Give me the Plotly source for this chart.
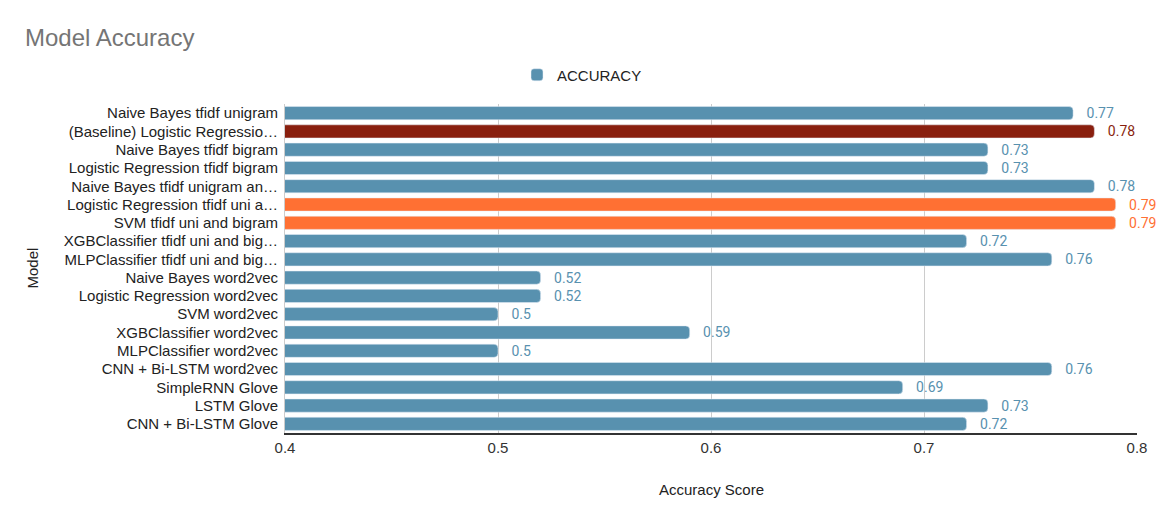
import plotly.graph_objects as go

# data
models = ["Naive Bayes tfidf unigram", "(Baseline) Logistic Regressio…", "Naive Bayes tfidf bigram",
          "Logistic Regression tfidf bigram", "Naive Bayes tfidf unigram an…",
          "Logistic Regression tfidf uni a…", "SVM tfidf uni and bigram",
          "XGBClassifier tfidf uni and big…", "MLPClassifier tfidf uni and big…",
          "Naive Bayes word2vec", "Logistic Regression word2vec", "SVM word2vec",
          "XGBClassifier word2vec", "MLPClassifier word2vec", "CNN + Bi-LSTM word2vec",
          "SimpleRNN Glove", "LSTM Glove", "CNN + Bi-LSTM Glove"]
accuracy = [0.77, 0.78, 0.73, 0.73, 0.78, 0.79, 0.79, 0.72, 0.76,
            0.52, 0.52, 0.5, 0.59, 0.5, 0.76, 0.69, 0.73, 0.72]
x_ticks = [0.4, 0.5, 0.6, 0.7, 0.8]

blue = "rgb(88,145,175)"
dark_red = "rgb(137,31,14)"
orange = "rgb(255,112,51)"
# baseline highlighted in dark red, best two in orange
colors = [blue] * len(models)
colors[1] = dark_red
colors[5] = orange
colors[6] = orange

W, H = 1164, 523
off = 8  # page body margin shifts the figure by this much
left, right, top, bottom = 285 - off, 27 + off, 104 - off, 90 + off
font = "Liberation Sans"

fig = go.Figure(go.Bar(
    x=accuracy, y=models, orientation="h", name="ACCURACY",
    marker=dict(color=colors, cornerradius=4),
    text=["\u00a0\u00a0\u00a0" + str(v) for v in accuracy], textposition="outside",
    constraintext="none",
    textfont=dict(family="Roboto", size=14, color=colors),
    cliponaxis=False, showlegend=True,
))

fig.update_layout(
    width=W, height=H,
    margin=dict(l=left, r=right, t=top, b=bottom),
    paper_bgcolor="white", plot_bgcolor="white",
    font=dict(family=font, size=15, color="#222"),
    bargap=0.28,
    title=dict(text="Model Accuracy", xref="container", yref="container",
               x=(25 - off) / W, y=1 - (38 - off) / H, xanchor="left", yanchor="middle",
               font=dict(family=font, size=24, color="#757575")),
    legend=dict(orientation="h", xref="container", yref="container",
                x=(582 - off) / W, y=1 - (75 - off) / H, xanchor="center", yanchor="middle",
                font=dict(family=font, size=15, color="#222")),
)

fig.update_xaxes(range=[0.4, 0.8], tickvals=x_ticks, ticktext=[str(t) for t in x_ticks],
                 showgrid=True, gridcolor="#cccccc", zeroline=False,
                 showline=True, linecolor="#333", linewidth=1.5,
                 tickfont=dict(size=15, color="#333"))
fig.update_yaxes(autorange="reversed", showgrid=False, zeroline=False,
                 showline=True, linecolor="#cccccc", ticks="", ticklabelstandoff=3,
                 tickfont=dict(size=15, color="#222"))

# axis titles placed by hand
plot_h = H - top - bottom
plot_w = W - left - right
fig.add_annotation(text="Accuracy Score", xref="paper", yref="paper",
                   x=0.5, y=-(489 - off - (H - bottom)) / plot_h,
                   showarrow=False, xanchor="center", yanchor="middle",
                   font=dict(family=font, size=15, color="#222"))
fig.add_annotation(text="Model", xref="paper", yref="paper", textangle=-90,
                   x=-(left - (32 - off)) / plot_w, y=0.5,
                   showarrow=False, xanchor="center", yanchor="middle",
                   font=dict(family=font, size=15, color="#222"))

fig.write_html("out.html")
